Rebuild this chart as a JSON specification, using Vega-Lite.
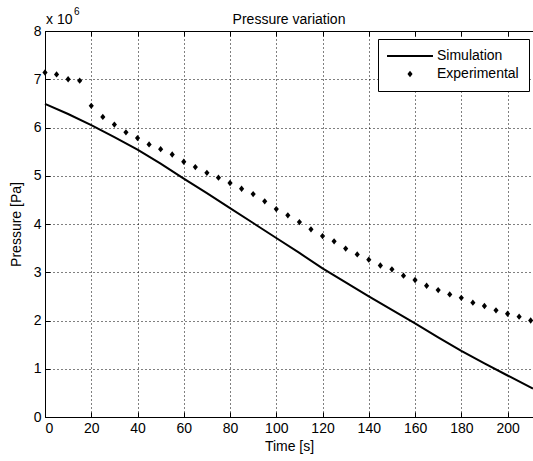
{
  "$schema": "https://vega.github.io/schema/vega-lite/v6.json",
  "width": 488,
  "height": 386,
  "autosize": {"type": "none"},
  "padding": {"left": 45, "top": 31, "right": 0, "bottom": 44},
  "background": "white",
  "title": {"text": "Pressure variation", "font": "Liberation Sans", "fontSize": 14, "fontWeight": "normal", "color": "black", "anchor": "middle", "frame": "group", "baseline": "alphabetic", "offset": -31},
  "config": {
    "view": {"stroke": null},
    "font": "Liberation Sans",
    "axis": {
      "labelFont": "Liberation Sans", "labelFontSize": 14, "labelColor": "black",
      "titleFont": "Liberation Sans", "titleFontSize": 14, "titleFontWeight": "normal", "titleColor": "black",
      "domainColor": "black", "domainWidth": 1, "tickColor": "black", "tickSize": -5, "tickWidth": 1,
      "gridColor": "black", "gridDash": [1, 3], "gridOpacity": 1, "gridWidth": 1
    },
    "legend": {
      "strokeColor": "black", "fillColor": "white", "padding": 10, "cornerRadius": 0,
      "labelFont": "Liberation Sans", "labelFontSize": 14, "labelColor": "black",
      "symbolSize": 132, "symbolStrokeWidth": 0, "symbolStrokeColor": "black", "symbolFillColor": "black",
      "rowPadding": 4, "labelOffset": 20, "symbolOffset": 15
    }
  },
  "datasets": {
    "sim": [
      {"t": 0, "p": 6.49}, {"t": 10, "p": 6.28}, {"t": 20, "p": 6.05}, {"t": 30, "p": 5.80},
      {"t": 40, "p": 5.54}, {"t": 50, "p": 5.25}, {"t": 60, "p": 4.94}, {"t": 70, "p": 4.64},
      {"t": 80, "p": 4.33}, {"t": 90, "p": 4.02}, {"t": 100, "p": 3.71}, {"t": 110, "p": 3.40},
      {"t": 120, "p": 3.08}, {"t": 130, "p": 2.79}, {"t": 140, "p": 2.50}, {"t": 150, "p": 2.22},
      {"t": 160, "p": 1.94}, {"t": 170, "p": 1.65}, {"t": 180, "p": 1.37}, {"t": 190, "p": 1.11},
      {"t": 200, "p": 0.86}, {"t": 211, "p": 0.59}
    ],
    "exp": [
      {"t": 0, "p": 7.14}, {"t": 5, "p": 7.10}, {"t": 10, "p": 7.00}, {"t": 15, "p": 6.97},
      {"t": 20, "p": 6.45}, {"t": 25, "p": 6.22}, {"t": 30, "p": 6.06}, {"t": 35, "p": 5.90},
      {"t": 40, "p": 5.78}, {"t": 45, "p": 5.65}, {"t": 50, "p": 5.55}, {"t": 55, "p": 5.44},
      {"t": 60, "p": 5.29}, {"t": 65, "p": 5.18}, {"t": 70, "p": 5.06}, {"t": 75, "p": 4.96},
      {"t": 80, "p": 4.85}, {"t": 85, "p": 4.73}, {"t": 90, "p": 4.62}, {"t": 95, "p": 4.47},
      {"t": 100, "p": 4.31}, {"t": 105, "p": 4.18}, {"t": 110, "p": 4.04}, {"t": 115, "p": 3.89},
      {"t": 120, "p": 3.75}, {"t": 125, "p": 3.64}, {"t": 130, "p": 3.49}, {"t": 135, "p": 3.37},
      {"t": 140, "p": 3.26}, {"t": 145, "p": 3.14}, {"t": 150, "p": 3.06}, {"t": 155, "p": 2.93},
      {"t": 160, "p": 2.84}, {"t": 165, "p": 2.72}, {"t": 170, "p": 2.63}, {"t": 175, "p": 2.54},
      {"t": 180, "p": 2.47}, {"t": 185, "p": 2.37}, {"t": 190, "p": 2.30}, {"t": 195, "p": 2.21},
      {"t": 200, "p": 2.14}, {"t": 205, "p": 2.08}, {"t": 210, "p": 2.00}
    ]
  },
  "resolve": {"axis": {"x": "independent"}},
  "layer": [
    {
      "data": {"name": "sim"},
      "mark": {"type": "line", "color": "black", "strokeWidth": 2},
      "encoding": {
        "x": {"field": "t", "type": "quantitative", "scale": {"domain": [0, 211], "nice": false, "zero": false},
              "axis": {"orient": "bottom", "title": "Time [s]", "values": [0, 20, 40, 60, 80, 100, 120, 140, 160, 180, 200], "grid": true, "labelPadding": 9, "titlePadding": 4}},
        "y": {"field": "p", "type": "quantitative", "scale": {"domain": [0, 8], "nice": false},
              "axis": {"title": "Pressure [Pa]", "values": [0, 1, 2, 3, 4, 5, 6, 7, 8], "grid": true, "labelPadding": 9, "titlePadding": 10}}
      }
    },
    {
      "data": {"name": "exp"},
      "mark": {"type": "point", "filled": true, "color": "black", "size": 132, "opacity": 1},
      "encoding": {
        "x": {"field": "t", "type": "quantitative",
              "axis": {"orient": "top", "labels": false, "title": null, "grid": false, "values": [0, 20, 40, 60, 80, 100, 120, 140, 160, 180, 200]}},
        "y": {"field": "p", "type": "quantitative"},
        "shape": {"datum": "Experimental", "type": "nominal",
                  "scale": {"domain": ["Simulation", "Experimental"], "range": ["M-4,-0.18L4,-0.18L4,0.18L-4,0.18Z", "M0,-0.55L0.45,0L0,0.55L-0.45,0Z"]},
                  "legend": {"title": null, "orient": "none", "legendX": 333, "legendY": 8}}
      }
    },
    {
      "data": {"values": [{}]},
      "mark": {"type": "text", "text": "x 10", "align": "left", "baseline": "alphabetic", "font": "Liberation Sans", "fontSize": 14, "color": "black", "dx": 1, "dy": -7},
      "encoding": {
        "x": {"datum": 0, "type": "quantitative", "axis": null},
        "y": {"datum": 8, "type": "quantitative"}
      }
    },
    {
      "data": {"values": [{}]},
      "mark": {"type": "text", "text": "6", "align": "left", "baseline": "alphabetic", "font": "Liberation Sans", "fontSize": 10, "color": "black", "dx": 29, "dy": -16},
      "encoding": {
        "x": {"datum": 0, "type": "quantitative", "axis": null},
        "y": {"datum": 8, "type": "quantitative"}
      }
    }
  ]
}
